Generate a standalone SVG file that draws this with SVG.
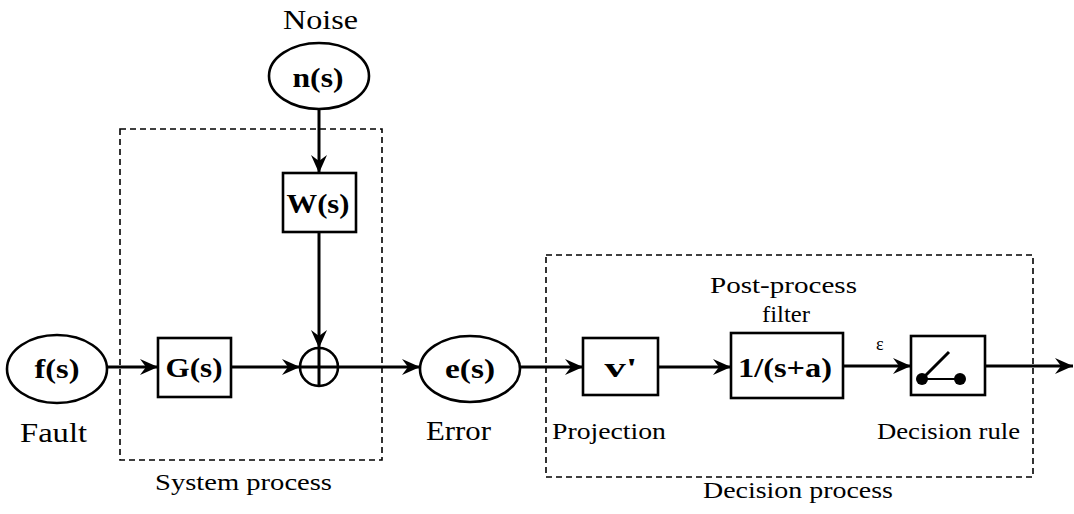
<svg xmlns="http://www.w3.org/2000/svg" width="1074" height="514" viewBox="0 0 1074 514" font-family="'Liberation Serif', 'DejaVu Serif', 'Times New Roman', Times, serif">
<style>
.bg{fill:#fff}
.shape{fill:#fff;stroke:#000;stroke-width:2.6}
.grp{fill:none;stroke:#000;stroke-width:1.6;stroke-dasharray:6 4}
.wire{fill:none;stroke:#000;stroke-width:3}
text{font-family:'Liberation Serif','DejaVu Serif','Times New Roman',Times,serif;fill:#000}
.lbl{font-weight:bold;font-size:28px;text-anchor:middle}
.cap{font-size:28px}
.small{font-size:24px}
</style>
<defs>
<marker id="arr" markerUnits="userSpaceOnUse" viewBox="0 0 18 16" refX="18" refY="8" markerWidth="18" markerHeight="16" orient="auto">
<path d="M0,0 L18,8 L0,16 L6,8 Z" fill="#000"/>
</marker>
</defs>
<rect class="bg" x="0" y="0" width="1074" height="514"/>

<g id="system-process">
<rect class="grp" x="120" y="129" width="262" height="331"/>
<text class="small" x="155" y="490" textLength="177" lengthAdjust="spacingAndGlyphs">System process</text>
</g>
<g id="decision-process">
<rect class="grp" x="546" y="255" width="487" height="222"/>
<text class="small" x="703" y="498" textLength="190" lengthAdjust="spacingAndGlyphs">Decision process</text>
</g>

<g id="connectors">
<line class="wire" x1="319" y1="110" x2="319" y2="173" marker-end="url(#arr)"/>
<line class="wire" x1="319" y1="232" x2="319" y2="348" marker-end="url(#arr)"/>
<line class="wire" x1="107" y1="367" x2="158" y2="367" marker-end="url(#arr)"/>
<line class="wire" x1="231" y1="367" x2="300" y2="367" marker-end="url(#arr)"/>
<line class="wire" x1="338" y1="367" x2="420" y2="367" marker-end="url(#arr)"/>
<line class="wire" x1="520" y1="367" x2="583" y2="367" marker-end="url(#arr)"/>
<line class="wire" x1="658" y1="367" x2="731" y2="367" marker-end="url(#arr)"/>
<line class="wire" x1="843" y1="366" x2="911" y2="366" marker-end="url(#arr)"/>
<line class="wire" x1="985" y1="366" x2="1073" y2="366" marker-end="url(#arr)"/>
<text x="876" y="350" font-size="18">ε</text>
</g>

<g id="noise">
<text class="cap" x="283" y="29" textLength="75" lengthAdjust="spacingAndGlyphs">Noise</text>
<ellipse class="shape" cx="319" cy="76" rx="50" ry="33"/>
<text class="lbl" x="318" y="87" textLength="51" lengthAdjust="spacingAndGlyphs">n(s)</text>
</g>

<g id="W">
<rect class="shape" x="283" y="173" width="73" height="59"/>
<text class="lbl" x="318" y="213" textLength="63" lengthAdjust="spacingAndGlyphs">W(s)</text>
</g>

<g id="fault">
<ellipse class="shape" cx="57" cy="369" rx="50" ry="34"/>
<text class="lbl" x="57" y="378" textLength="45" lengthAdjust="spacingAndGlyphs">f(s)</text>
<text class="cap" x="20" y="442" textLength="67" lengthAdjust="spacingAndGlyphs">Fault</text>
</g>

<g id="G">
<rect class="shape" x="158" y="338" width="73" height="59"/>
<text class="lbl" x="194" y="377" textLength="57" lengthAdjust="spacingAndGlyphs">G(s)</text>
</g>

<g id="sum">
<circle cx="319" cy="367" r="19" fill="none" stroke="#000" stroke-width="2.6"/>
<line class="wire" x1="319" y1="348" x2="319" y2="386" stroke-width="2.5"/>
<line class="wire" x1="300" y1="367" x2="338" y2="367"/>
</g>

<g id="error">
<ellipse class="shape" cx="470" cy="369" rx="50" ry="33"/>
<text class="lbl" x="470" y="378" textLength="50" lengthAdjust="spacingAndGlyphs">e(s)</text>
<text class="cap" x="426" y="440" textLength="65" lengthAdjust="spacingAndGlyphs">Error</text>
</g>

<g id="projection">
<rect class="shape" x="583" y="338" width="75" height="57"/>
<text class="lbl" x="621" y="377" textLength="33" lengthAdjust="spacingAndGlyphs">v'</text>
<text class="small" x="552" y="439" textLength="114" lengthAdjust="spacingAndGlyphs">Projection</text>
</g>

<g id="filter">
<text class="small" x="710" y="293" textLength="147" lengthAdjust="spacingAndGlyphs">Post-process</text>
<text class="small" x="762" y="322" textLength="48" lengthAdjust="spacingAndGlyphs">filter</text>
<rect class="shape" x="731" y="333" width="112" height="65"/>
<text class="lbl" x="785" y="377" textLength="94" lengthAdjust="spacingAndGlyphs">1/(s+a)</text>
</g>

<g id="decision-rule">
<rect class="shape" x="911" y="336" width="74" height="59"/>
<line x1="922" y1="379" x2="960" y2="379" stroke="#000" stroke-width="2"/>
<line x1="922" y1="379" x2="949" y2="352" stroke="#000" stroke-width="3"/>
<circle cx="922" cy="379" r="6" fill="#000"/>
<circle cx="960" cy="379" r="6" fill="#000"/>
<text class="small" x="877" y="439" textLength="143" lengthAdjust="spacingAndGlyphs">Decision rule</text>
</g>
</svg>
